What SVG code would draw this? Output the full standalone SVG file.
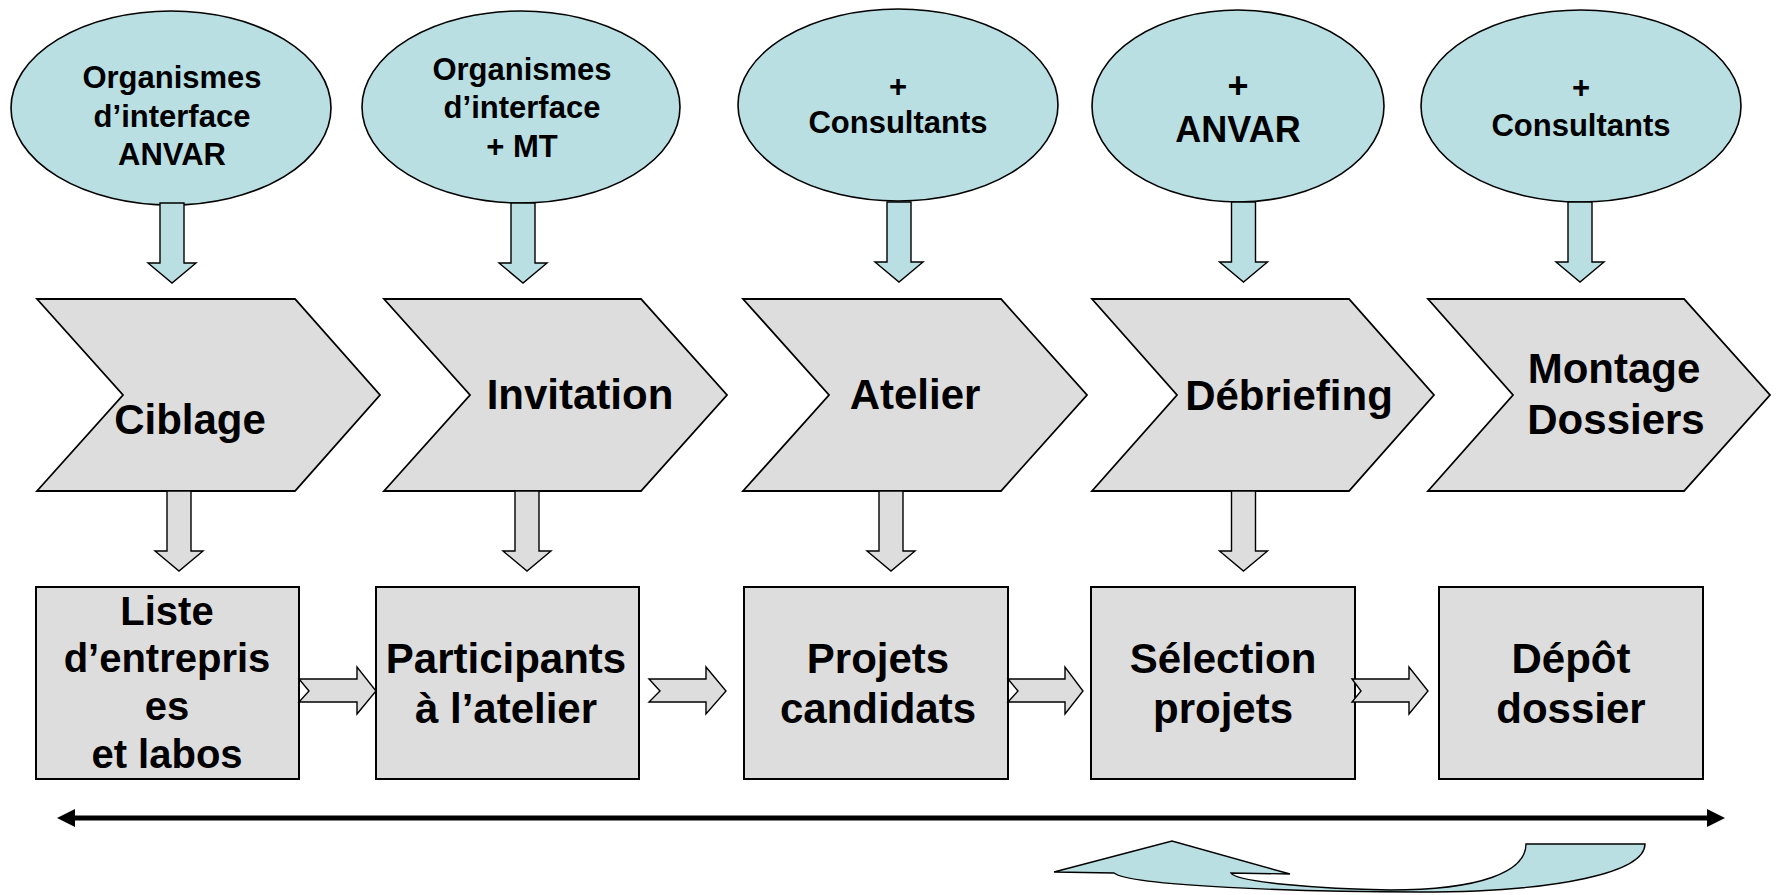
<svg xmlns="http://www.w3.org/2000/svg" width="1782" height="895" viewBox="0 0 1782 895">
  <style>
    .actor { fill: #B9DFE3; stroke: #000; stroke-width: 1.6; }
    .step { fill: #DDDDDD; stroke: #000; stroke-width: 1.8; }
    .out { fill: #DDDDDD; stroke: #000; stroke-width: 2; }
    .barrow { fill: #B9DFE3; stroke: #000; stroke-width: 1.4; }
    .garrow { fill: #DDDDDD; stroke: #000; stroke-width: 1.4; }
    text { font-family: "Liberation Sans", Arial, sans-serif; font-weight: bold; fill: #000; text-anchor: middle; }
    .t-actor { font-size: 31px; }
    .t-actor-big { font-size: 36px; }
    .t-step { font-size: 42px; }
    .t-out { font-size: 42px; }
    .t-out-s { font-size: 40px; }
  </style>
  <defs>
    <!-- vertical block arrow, origin at top centre of the stem -->
    <path id="down" d="M -12 0 L 12 0 L 12 60 L 24 60 L 0 80 L -24 60 L -12 60 Z"/>
  </defs>

  <rect width="1782" height="895" fill="#fff"/>

  <!-- actors -->
  <g id="actor-1">
    <ellipse class="actor" cx="171" cy="108" rx="160" ry="97"/>
    <text class="t-actor" x="172" y="88">Organismes</text>
    <text class="t-actor" x="172" y="127">d’interface</text>
    <text class="t-actor" x="172" y="165">ANVAR</text>
  </g>
  <g id="actor-2">
    <ellipse class="actor" cx="521" cy="107" rx="159" ry="96"/>
    <text class="t-actor" x="522" y="80">Organismes</text>
    <text class="t-actor" x="522" y="118">d’interface</text>
    <text class="t-actor" x="522" y="157">+ MT</text>
  </g>
  <g id="actor-3">
    <ellipse class="actor" cx="898" cy="105" rx="160" ry="96"/>
    <text class="t-actor" x="898" y="97">+</text>
    <text class="t-actor" x="898" y="133">Consultants</text>
  </g>
  <g id="actor-4">
    <ellipse class="actor" cx="1238" cy="106" rx="146" ry="96"/>
    <text class="t-actor-big" x="1238" y="98">+</text>
    <text class="t-actor-big" x="1238" y="142">ANVAR</text>
  </g>
  <g id="actor-5">
    <ellipse class="actor" cx="1581" cy="106" rx="160" ry="96"/>
    <text class="t-actor" x="1581" y="98">+</text>
    <text class="t-actor" x="1581" y="136">Consultants</text>
  </g>

  <!-- process steps -->
  <g id="step-ciblage">
    <polygon class="step" points="37,299 295,299 380,395 295,491 37,491 123,395"/>
    <text class="t-step" x="190" y="434">Ciblage</text>
  </g>
  <g id="step-invitation">
    <polygon class="step" points="384,299 641,299 727,395 641,491 384,491 470,395"/>
    <text class="t-step" x="580" y="409">Invitation</text>
  </g>
  <g id="step-atelier">
    <polygon class="step" points="743,299 1001,299 1087,395 1001,491 743,491 829,395"/>
    <text class="t-step" x="915" y="409">Atelier</text>
  </g>
  <g id="step-debriefing">
    <polygon class="step" points="1092,299 1349,299 1434,395 1349,491 1092,491 1177,395"/>
    <text class="t-step" x="1289" y="410">Débriefing</text>
  </g>
  <g id="step-montage">
    <polygon class="step" points="1428,299 1684,299 1770,395 1684,491 1428,491 1513,395"/>
    <text class="t-step" x="1614" y="383">Montage</text>
    <text class="t-step" x="1616" y="434">Dossiers</text>
  </g>

  <!-- deliverables -->
  <g id="out-liste">
    <rect class="out" x="36" y="587" width="263" height="192"/>
    <text class="t-out-s" x="167" y="625">Liste</text>
    <text class="t-out-s" x="167" y="672">d’entrepris</text>
    <text class="t-out-s" x="167" y="720">es</text>
    <text class="t-out-s" x="167" y="768">et labos</text>
  </g>
  <g id="out-participants">
    <rect class="out" x="376" y="587" width="263" height="192"/>
    <text class="t-out" x="506" y="673">Participants</text>
    <text class="t-out" x="506" y="723">à l’atelier</text>
  </g>
  <g id="out-projets">
    <rect class="out" x="744" y="587" width="264" height="192"/>
    <text class="t-out" x="878" y="673">Projets</text>
    <text class="t-out" x="878" y="723">candidats</text>
  </g>
  <g id="out-selection">
    <rect class="out" x="1091" y="587" width="264" height="192"/>
    <text class="t-out" x="1223" y="673">Sélection</text>
    <text class="t-out" x="1223" y="723">projets</text>
  </g>
  <g id="out-depot">
    <rect class="out" x="1439" y="587" width="264" height="192"/>
    <text class="t-out" x="1571" y="673">Dépôt</text>
    <text class="t-out" x="1571" y="723">dossier</text>
  </g>

  <!-- connectors -->
  <g id="connectors">
    <!-- actor to step -->
    <use href="#down" class="barrow" x="172" y="203"/>
    <use href="#down" class="barrow" x="523" y="203"/>
    <use href="#down" class="barrow" x="899" y="202"/>
    <use href="#down" class="barrow" x="1243.5" y="202"/>
    <use href="#down" class="barrow" x="1580" y="202"/>
    <!-- step to deliverable -->
    <use href="#down" class="garrow" x="179" y="491"/>
    <use href="#down" class="garrow" x="527" y="491"/>
    <use href="#down" class="garrow" x="891" y="491"/>
    <use href="#down" class="garrow" x="1243.5" y="491"/>
    <!-- deliverable to deliverable -->
    <polygon class="garrow" points="299,679 357,679 357,667 376,691 357,714 357,702 299,702 309,691"/>
    <polygon class="garrow" points="649,679 706,679 706,667 726,691 706,714 706,702 649,702 660,691"/>
    <polygon class="garrow" points="1008,679 1065,679 1065,667 1083,691 1065,714 1065,702 1008,702 1018,691"/>
    <polygon class="garrow" points="1352,679 1409,679 1409,667 1428,691 1409,714 1409,702 1352,702 1361,691"/>
    <!-- overall timeline -->
    <line x1="72" y1="818" x2="1710" y2="818" stroke="#000" stroke-width="5"/>
    <polygon points="57,818 75,809 75,827" fill="#000"/>
    <polygon points="1725,818 1707,809 1707,827" fill="#000"/>
    <!-- feedback loop -->
    <path class="barrow" stroke-width="1.8" d="M 1054 872 L 1172 841 L 1290 874 L 1231 873 C 1236 882 1320 889 1390 890 C 1480 890 1526 872 1526 844 L 1645 844 C 1645 872 1560 892 1420 892 C 1300 892 1130 886 1114 873 Z"/>
  </g>
</svg>
